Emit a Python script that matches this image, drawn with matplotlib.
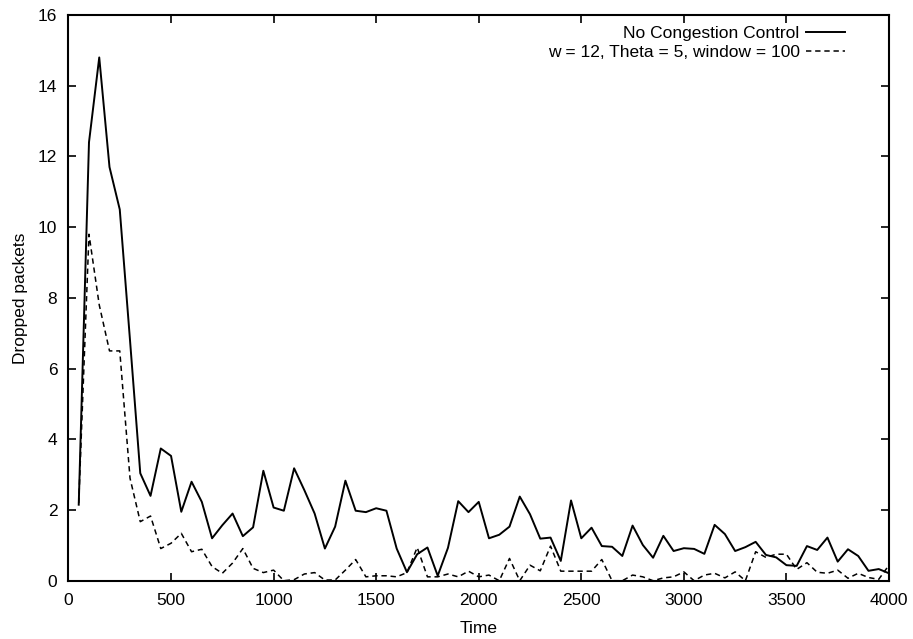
import numpy as np
import matplotlib
matplotlib.use("Agg")
import matplotlib.pyplot as plt

plt.rcParams['font.family'] = ['Liberation Sans', 'DejaVu Sans']

# Sample times (every 50 time units)
time = np.arange(50, 4001, 50)

# Dropped packets without any congestion control
no_cc = [
    2.15, 12.4, 14.8, 11.7, 10.5, 6.8, 3.04, 2.40, 3.74, 3.53,
    1.95, 2.80, 2.23, 1.20, 1.57, 1.90, 1.26, 1.51, 3.11, 2.07,
    1.98, 3.18, 2.56, 1.90, 0.91, 1.53, 2.83, 1.98, 1.94, 2.05,
    1.98, 0.91, 0.24, 0.75, 0.94, 0.14, 0.93, 2.25, 1.94, 2.23,
    1.20, 1.30, 1.53, 2.38, 1.88, 1.19, 1.22, 0.56, 2.27, 1.20,
    1.50, 0.98, 0.96, 0.70, 1.56, 1.01, 0.65, 1.27, 0.84, 0.92,
    0.90, 0.76, 1.58, 1.32, 0.84, 0.95, 1.10, 0.73, 0.66, 0.44,
    0.42, 0.98, 0.87, 1.22, 0.54, 0.89, 0.70, 0.28, 0.33, 0.21,
]

# Dropped packets with congestion control (w = 12, Theta = 5, window = 100)
with_cc = [
    2.2, 9.8, 7.8, 6.5, 6.5, 2.9, 1.67, 1.83, 0.91, 1.06,
    1.34, 0.82, 0.89, 0.40, 0.21, 0.50, 0.91, 0.35, 0.23, 0.30,
    0.0, 0.03, 0.19, 0.23, 0.02, 0.02, 0.30, 0.60, 0.11, 0.14,
    0.14, 0.11, 0.23, 0.94, 0.11, 0.11, 0.19, 0.11, 0.27, 0.11,
    0.16, 0.0, 0.63, 0.0, 0.44, 0.28, 0.98, 0.27, 0.27, 0.27,
    0.27, 0.60, 0.0, 0.0, 0.16, 0.11, 0.0, 0.08, 0.11, 0.25,
    0.0, 0.16, 0.21, 0.08, 0.25, 0.0, 0.82, 0.66, 0.75, 0.75,
    0.32, 0.51, 0.24, 0.21, 0.30, 0.07, 0.21, 0.09, 0.04, 0.44,
]

labels = ["No Congestion Control", "w = 12, Theta = 5, window = 100"]
x_ticks = np.arange(0, 4001, 500)
y_ticks = np.arange(0, 17, 2)

fig = plt.figure(figsize=(9.13, 6.39), dpi=100)
ax = fig.add_axes([0.075, 0.0912, 0.8987, 0.8853])

ax.plot(time, no_cc, color='black', lw=1.4, ls='-', label=labels[0])
ax.plot(time, with_cc, color='black', lw=1.1, ls=(0, (3.5, 2.5)), label=labels[1])

ax.set_xlim(0, 4000)
ax.set_ylim(0, 16)
ax.set_xticks(x_ticks)
ax.set_yticks(y_ticks)
ax.tick_params(direction='in', top=True, right=True, length=6, width=1.2,
               labelsize=12.5, colors='black')
ax.tick_params(axis='x', pad=9)
ax.tick_params(axis='y', pad=8)
for s in ax.spines.values():
    s.set_linewidth(1.5)

ax.set_xlabel("Time", fontsize=12.5, labelpad=9)
ax.set_ylabel("Dropped packets", fontsize=12.5, labelpad=7)

leg = ax.legend(loc='upper right', bbox_to_anchor=(0.946, 0.980),
                frameon=False, markerfirst=False, fontsize=12.5,
                handlelength=2.2, handletextpad=0.4, borderaxespad=0.0,
                borderpad=0.0, labelspacing=0.2)
for t in leg.get_texts():
    t.set_ha('right')
leg._legend_box.align = "right"

fig.savefig("out.png", dpi=100)
